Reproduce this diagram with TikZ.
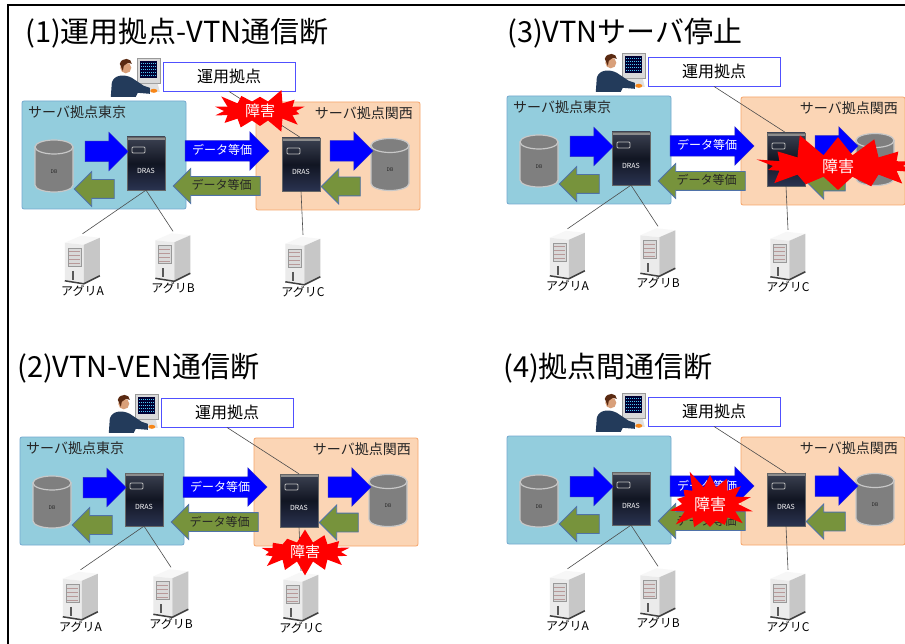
\documentclass[tikz,border=0pt]{standalone}
\usepackage{fontspec}
\setmainfont{Noto Sans CJK JP}
\usetikzlibrary{positioning,shapes.arrows,shapes.symbols}

\definecolor{tokyofill}{HTML}{93CDDD}
\definecolor{tokyoline}{HTML}{74A9CF}
\definecolor{kansaifill}{HTML}{FBD5B5}
\definecolor{kansailine}{HTML}{F6A56B}
\definecolor{opsline}{HTML}{5050FF}
\definecolor{pushblue}{HTML}{0000FF}
\definecolor{pushline}{HTML}{2B2BC8}
\definecolor{pullgreen}{HTML}{77933C}
\definecolor{pullline}{HTML}{4F72A8}
\definecolor{dbgray}{HTML}{7F7F7F}
\definecolor{dbrim}{HTML}{C8C8C8}
\definecolor{drastop}{HTML}{3C4252}
\definecolor{drasmid}{HTML}{111522}
\definecolor{drasbottom}{HTML}{2A3350}
\definecolor{faultred}{HTML}{FF0000}
\definecolor{skin}{HTML}{D9A07A}
\definecolor{hair}{HTML}{5A2A12}
\definecolor{suit}{HTML}{233B5B}

\tikzset{
  title/.style={anchor=west, inner sep=0pt, font=\fontsize{29}{29}\selectfont},
  site/.style={rectangle, rounded corners=2pt, inner sep=0pt, line width=0.8pt,
    minimum width=164pt, minimum height=108pt},
  tokyo/.style={site, fill=tokyofill, draw=tokyoline},
  kansai/.style={site, fill=kansaifill, draw=kansailine},
  sitename/.style={inner sep=0pt, text=black!85, font=\fontsize{14}{14}\selectfont},
  opsbox/.style={draw=opsline, fill=white, line width=0.9pt, minimum width=132pt,
    minimum height=29pt, inner sep=0pt, font=\fontsize{16}{16}\selectfont},
  flow/.style={single arrow, single arrow head extend=9pt, inner xsep=2pt,
    inner ysep=4pt, text height=10pt, text depth=2pt, font=\fontsize{12}{12}\selectfont},
  push/.style={flow, fill=pushblue, draw=pushline, line width=0.5pt, text=white},
  pull/.style={flow, fill=pullgreen, draw=pullline, line width=0.8pt, text=black!85,
    shape border rotate=180, inner ysep=3pt, single arrow head extend=8pt},
  dbname/.style={inner sep=0pt, text=black!85, font=\fontsize{5}{5}\selectfont},
  dras/.style={rectangle, minimum width=38pt, minimum height=53pt, inner sep=0pt,
    top color=drastop, bottom color=drasbottom, middle color=drasmid,
    draw=black!60, line width=0.3pt,
    path picture={
      \fill[black!45] (path picture bounding box.north west)
        rectangle ([yshift=-3pt]path picture bounding box.north east);
      \draw[white!75!black, line width=0.8pt, rounded corners=1pt]
        ([xshift=5pt,yshift=-10pt]path picture bounding box.north west)
        rectangle ([xshift=18pt,yshift=-16pt]path picture bounding box.north west);
      \node[text=white, font=\fontsize{7}{7}\selectfont]
        at ([yshift=-7pt]path picture bounding box.center) {DRAS};
    }},
  agri/.style={rectangle, minimum width=35pt, minimum height=50pt, inner sep=0pt},
  agriname/.style={inner sep=0pt, font=\fontsize{12}{12}\selectfont},
  operator/.style={rectangle, minimum width=50pt, minimum height=40pt, inner sep=0pt},
  link/.style={draw=black!70, line width=0.6pt},
  fault/.style={starburst, starburst points=14, starburst point height=14pt,
    fill=faultred, draw=none, text=white, inner sep=0pt,
    font=\fontsize{15}{15}\selectfont},
  % tower server, origin at its top left corner
  agriicon/.pic={
    \fill[black!3] (0,9) -- (16,2) -- (35,4) -- (19,11) -- cycle;
    \fill[black!8] (0,9) -- (19,11) -- (19,50) -- (0,47) -- cycle;
    \fill[black!22] (19,11) -- (35,4) -- (35,42) -- (19,50) -- cycle;
    \filldraw[fill=black!15, draw=black!40, line width=0.4pt] (3,14) rectangle (16,32);
    \foreach \y in {18,22,26,30}
      \draw[red!30!black!40, line width=0.6pt] (4,\y) -- (15,\y);
    \draw[black!65, line width=2pt] (8,37) -- (8,46);
    \draw[black!75, line width=1.5pt] (0,47) -- (19,50) -- (35,42);
  },
  % person at a terminal, origin at its top left corner
  opicon/.pic={
    \filldraw[fill=black!15, draw=black!40, line width=0.4pt] (27,1) rectangle (50,26);
    \fill[blue!20!black] (30,4) rectangle (47,21);
    \foreach \y in {7,10,13,16,19}
      \draw[cyan!70, line width=0.8pt, dash pattern=on 1pt off 1pt] (31,\y) -- (46,\y);
    \fill[black!12] (30,27) -- (48,27) -- (50,35) -- (28,35) -- cycle;
    \fill[suit] (1,40) -- (2,26) .. controls (4,18) and (14,17) .. (22,21)
      -- (34,29) -- (40,31) -- (40,37) -- (28,36) -- (26,40) -- cycle;
    \fill[skin] (16,11) circle (5.5);
    \fill[hair] (10,7) .. controls (12,0) and (22,1) .. (22,7)
      -- (18,6) -- (14,9) -- (13,14) -- cycle;
    \fill[orange!80!skin] (44,34) ellipse [x radius=3.5, y radius=2];
  },
  % database drum, origin at its centre
  dbicon/.pic={
    \filldraw[fill=dbgray, draw=dbrim, line width=1.2pt] (-19,-19) -- (-19,19)
      arc[start angle=180, end angle=0, x radius=19, y radius=7] -- (19,-19) -- cycle;
    \filldraw[fill=dbgray, draw=dbrim, line width=1.2pt] (0,-19)
      ellipse [x radius=19, y radius=7];
  }
}

% one panel: operator, the two server sites and the aggregators
\newcommand{\sitepanel}[2]{%
  % operator and operation site
  \node[operator] (#1op) at (135,77) {};
  \pic at (#1op.north west) {opicon};
  \node[opsbox] (#1ops) at (229,76.5) {運用拠点};
  % server sites
  \node[tokyo] (#1tk) at (104,155) {};
  \node[kansai] (#1ks) at (338,156) {};
  \node[sitename, anchor=west] (#1tkname) at (28,112) {#2};
  \node[sitename, anchor=east] (#1ksname) at (413,113) {サーバ拠点関西};
  % databases and DRAS
  \pic at (54,166) {dbicon};
  \node[dbname] (#1dbT) at (54,172) {DB};
  \node[dras] (#1drasT) at (146,163.5) {};
  \node[dras] (#1drasK) at (301,164.5) {};
  \pic at (390,164.5) {dbicon};
  \node[dbname] (#1dbK) at (390,170) {DB};
  % replication
  \node[push, minimum height=43pt] (#1pushT) at (101.5,151.5) {};
  \node[pull, minimum height=40pt] (#1pullT) at (99,189) {};
  \node[push, minimum height=84pt] (#1pushM) at (222,151) {データ等価};
  \node[pull, minimum height=87pt] (#1pullM) at (221.5,186) {データ等価};
  \node[push, minimum height=43pt] (#1pushK) at (346.5,151) {};
  \node[pull, minimum height=39pt] (#1pullK) at (345.5,186.5) {};
  % aggregators
  \node[agri] (#1agA) at (82.5,259) {};
  \node[agri] (#1agB) at (173,256.5) {};
  \node[agri] (#1agC) at (303,260) {};
  \pic at (#1agA.north west) {agriicon};
  \pic at (#1agB.north west) {agriicon};
  \pic at (#1agC.north west) {agriicon};
  \node[agriname, below=1pt of #1agA] (#1agAname) {アグリA};
  \node[agriname, below=1pt of #1agB] (#1agBname) {アグリB};
  \node[agriname, below=1pt of #1agC] (#1agCname) {アグリC};
  % links
  \draw[link] (#1drasT.south) -- (#1agA.north);
  \draw[link] (#1drasT.south) -- (#1agB.north);
  \draw[link] (#1drasK.south) -- (#1agC.north);
  \draw[link] (#1ops.south) -- (#1drasK.north);
}

\begin{document}
\begin{tikzpicture}[x=1pt, y=-1pt]
  \useasboundingbox (0,0) rectangle (905,644);
  \fill[white] (0,0) rectangle (905,644);
  \clip (0,0) rectangle (905,644);

  % frame
  \draw[line width=2pt] (8,644) -- (8,5) -- (905,5);

  % titles
  \node[title] (t1) at (25,33) {(1)運用拠点-VTN通信断};
  \node[title] (t2) at (17,368) {(2)VTN-VEN通信断};
  \node[title] (t3) at (507,33) {(3)VTNサーバ停止};
  \node[title] (t4) at (503,368) {(4)拠点間通信断};

  % panels
  \begin{scope}[shift={(0,0)}]
    \sitepanel{a}{サーバ拠点東京}
  \end{scope}
  \begin{scope}[shift={(-2,336)}]
    \sitepanel{b}{サーバ拠点東京}
  \end{scope}
  \begin{scope}[shift={(485,-5)}]
    \sitepanel{c}{サーバ拠点東京}
  \end{scope}
  \begin{scope}[shift={(485,335)}]
    \sitepanel{d}{}
  \end{scope}

  % faults
  \node[fault, minimum width=100pt, minimum height=42pt, random starburst=3] (fa) at (260,111) {障害};
  \node[fault, minimum width=100pt, minimum height=42pt, random starburst=7] (fb) at (305,552) {障害};
  \node[fault, minimum width=178pt, minimum height=70pt, starburst point height=24pt,
    random starburst=11, font=\fontsize{16}{16}\selectfont] (fc) at (838,166) {障害};
  \node[fault, minimum width=96pt, minimum height=74pt, starburst point height=20pt,
    random starburst=5, font=\fontsize{16}{16}\selectfont] (fd) at (710,504) {障害};
\end{tikzpicture}
\end{document}
